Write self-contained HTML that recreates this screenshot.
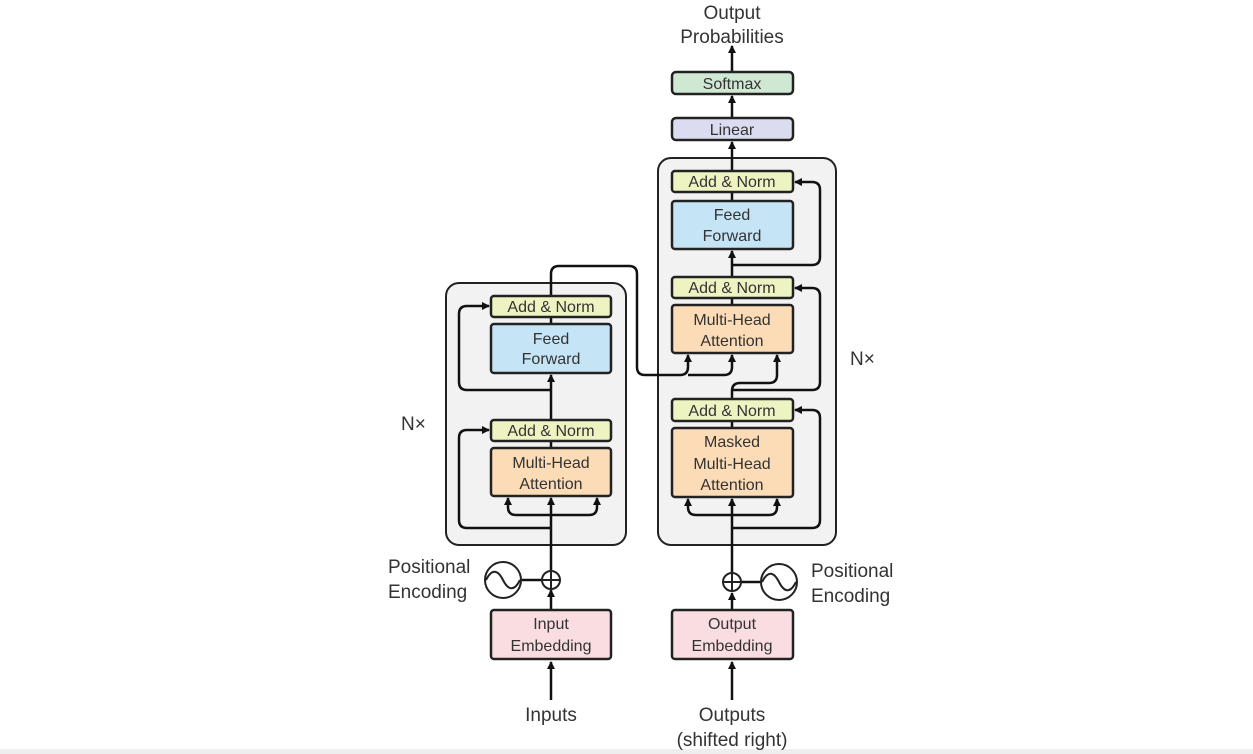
<!DOCTYPE html>
<html><head><meta charset="utf-8"><style>
html,body{margin:0;padding:0;background:#fff;}
svg{display:block;}
text{font-family:"Liberation Sans",sans-serif;fill:#333;}
</style></head><body>
<svg width="1253" height="754" viewBox="0 0 1253 754" xmlns="http://www.w3.org/2000/svg">
<defs>
<marker id="a" markerWidth="8" markerHeight="8" refX="7" refY="4" orient="auto" markerUnits="userSpaceOnUse">
<path d="M0,0 L8,4 L0,8 Z" fill="#111"/></marker>
</defs>
<rect x="0" y="749" width="1253" height="5" fill="#eeeeee"/>
<!-- Encoder box -->
<rect x="446" y="283" width="180" height="262" rx="13" fill="#f2f2f2" stroke="#222" stroke-width="2"/>
<!-- Decoder box -->
<rect x="658" y="158" width="178" height="387" rx="13" fill="#f2f2f2" stroke="#222" stroke-width="2"/>

<g stroke="#111" stroke-width="2.5" fill="none">
<!-- encoder lines -->
<line x1="551" y1="700" x2="551" y2="662" marker-end="url(#a)"/>
<line x1="551" y1="610" x2="551" y2="590" marker-end="url(#a)"/>
<line x1="551" y1="570" x2="551" y2="498" marker-end="url(#a)"/>
<path d="M551,515 H516 Q508,515 508,507 V498" marker-end="url(#a)"/>
<path d="M551,515 H589 Q597,515 597,507 V498" marker-end="url(#a)"/>
<path d="M551,528 H467 Q459,528 459,520 V438 Q459,430 467,430 H489" marker-end="url(#a)"/>
<line x1="551" y1="448" x2="551" y2="441"/>
<line x1="551" y1="420" x2="551" y2="375" marker-end="url(#a)"/>
<path d="M551,390 H467 Q459,390 459,382 V314 Q459,306 467,306 H489" marker-end="url(#a)"/>
<line x1="551" y1="324" x2="551" y2="317"/>
<path d="M551,296 V274 Q551,266 559,266 H629 Q637,266 637,274 V367 Q637,375 645,375 H680 Q688,375 688,367 V355" marker-end="url(#a)"/>
<path d="M688,375 H724 Q732,375 732,367 V355" marker-end="url(#a)"/>
<!-- decoder lines -->
<line x1="732" y1="700" x2="732" y2="662" marker-end="url(#a)"/>
<line x1="732" y1="610" x2="732" y2="593" marker-end="url(#a)"/>
<line x1="732" y1="573" x2="732" y2="499" marker-end="url(#a)"/>
<path d="M732,515 H696 Q688,515 688,507 V499" marker-end="url(#a)"/>
<path d="M732,515 H769 Q777,515 777,507 V499" marker-end="url(#a)"/>
<path d="M732,528 H812 Q820,528 820,520 V418 Q820,410 812,410 H795" marker-end="url(#a)"/>
<line x1="732" y1="428" x2="732" y2="421"/>
<path d="M732,399 V391 Q732,383 740,383 H769 Q777,383 777,375 V355" marker-end="url(#a)"/>
<path d="M732,390 H812 Q820,390 820,382 V296 Q820,288 812,288 H795" marker-end="url(#a)"/>
<line x1="732" y1="305" x2="732" y2="298"/>
<line x1="732" y1="277" x2="732" y2="251" marker-end="url(#a)"/>
<path d="M732,265 H812 Q820,265 820,257 V190 Q820,182 812,182 H795" marker-end="url(#a)"/>
<line x1="732" y1="201" x2="732" y2="192"/>
<line x1="732" y1="171" x2="732" y2="142" marker-end="url(#a)"/>
<line x1="732" y1="118" x2="732" y2="96" marker-end="url(#a)"/>
<line x1="732" y1="72" x2="732" y2="46" marker-end="url(#a)"/>
<!-- positional encodings -->
<line x1="521" y1="580" x2="542" y2="580"/>
<line x1="741" y1="582" x2="761" y2="582"/>
</g>

<g stroke="#222" stroke-width="2.5">
<rect x="491" y="296" width="120" height="21" rx="3" fill="#eef3c2"/>
<rect x="491" y="324" width="120" height="49" rx="3" fill="#c5e4f5"/>
<rect x="491" y="420" width="120" height="21" rx="3" fill="#eef3c2"/>
<rect x="491" y="448" width="120" height="48" rx="3" fill="#fbdcb6"/>
<rect x="672" y="171" width="121" height="21" rx="3" fill="#eef3c2"/>
<rect x="672" y="201" width="121" height="48" rx="3" fill="#c5e4f5"/>
<rect x="672" y="277" width="121" height="21" rx="3" fill="#eef3c2"/>
<rect x="672" y="305" width="121" height="48" rx="3" fill="#fbdcb6"/>
<rect x="672" y="399" width="121" height="22" rx="3" fill="#eef3c2"/>
<rect x="672" y="428" width="121" height="69" rx="3" fill="#fbdcb6"/>
<rect x="672" y="118" width="121" height="22" rx="4" fill="#dcdcf0"/>
<rect x="672" y="72" width="121" height="22" rx="4" fill="#cfe8d3"/>
<rect x="491" y="610" width="120" height="49" rx="3" fill="#f9dde0"/>
<rect x="672" y="610" width="121" height="49" rx="3" fill="#f9dde0"/>
</g>
<g stroke="#222" stroke-width="2" fill="#fff">
<circle cx="551" cy="580" r="9"/>
<circle cx="732" cy="582" r="9"/>
<circle cx="503" cy="580" r="18"/>
<circle cx="779" cy="582" r="18"/>
</g>
<g stroke="#222" stroke-width="2" fill="none">
<path d="M542,580 H560 M551,571 V589"/>
<path d="M723,582 H741 M732,573 V591"/>
<path d="M486,580 C492,568 498,570 503,580 C508,590 514,592 520,580"/>
<path d="M762,582 C768,570 774,572 779,582 C784,592 790,594 796,582"/>
</g>

<g font-size="16" text-anchor="middle">
<text x="551" y="312">Add &amp; Norm</text>
<text x="551" y="344">Feed</text>
<text x="551" y="364">Forward</text>
<text x="551" y="436">Add &amp; Norm</text>
<text x="551" y="468">Multi-Head</text>
<text x="551" y="489">Attention</text>
<text x="732" y="187">Add &amp; Norm</text>
<text x="732" y="220">Feed</text>
<text x="732" y="241">Forward</text>
<text x="732" y="293">Add &amp; Norm</text>
<text x="732" y="325">Multi-Head</text>
<text x="732" y="346">Attention</text>
<text x="732" y="416">Add &amp; Norm</text>
<text x="732" y="447">Masked</text>
<text x="732" y="469">Multi-Head</text>
<text x="732" y="490">Attention</text>
<text x="732" y="135">Linear</text>
<text x="732" y="89">Softmax</text>
<text x="551" y="629">Input</text>
<text x="551" y="651">Embedding</text>
<text x="732" y="629">Output</text>
<text x="732" y="651">Embedding</text>
</g>
<g font-size="19" text-anchor="middle">
<text x="732" y="19">Output</text>
<text x="732" y="43">Probabilities</text>
<text x="551" y="721">Inputs</text>
<text x="732" y="721">Outputs</text>
<text x="732" y="746">(shifted right)</text>
</g>
<g font-size="19">
<text x="388" y="573">Positional</text>
<text x="388" y="598">Encoding</text>
<text x="811" y="577">Positional</text>
<text x="811" y="602">Encoding</text>
<text x="401" y="430">N×</text>
<text x="850" y="365">N×</text>
</g>
</svg>
</body></html>
